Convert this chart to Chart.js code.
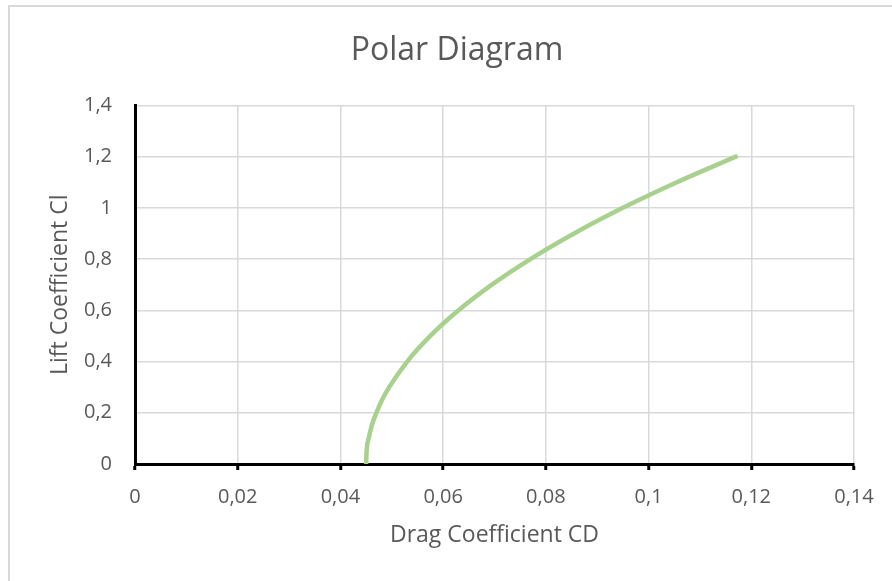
<!DOCTYPE html>
<html>
<head>
<meta charset="utf-8">
<script src="https://cdn.jsdelivr.net/npm/chart.js@4"></script>
<style>
  html, body { margin: 0; padding: 0; overflow: hidden; background: #fff; }
  #frame {
    position: absolute; left: 8px; top: 5px;
    width: 1000px; height: 1000px;
    border: 2px solid #d9d9d9;
  }
  #polar { position: absolute; left: 0; top: 0; }
</style>
</head>
<body>
<div id="frame"></div>
<canvas id="polar" width="914" height="581"></canvas>
<script>
// Polar curve: lift coefficient vs drag coefficient
const liftCoeff = [0, 0.05, 0.1, 0.15, 0.2, 0.25, 0.3, 0.4, 0.5, 0.6, 0.7, 0.8, 0.9, 1.0, 1.1, 1.2];
const dragCoeff = [0.045, 0.0451, 0.0455, 0.0461, 0.047, 0.0481, 0.0495, 0.053, 0.0575, 0.063, 0.0695, 0.077, 0.0855, 0.095, 0.1055, 0.117];

const xTickLabels = ["0", "0,02", "0,04", "0,06", "0,08", "0,1", "0,12", "0,14"];
const yTickLabels = ["0", "0,2", "0,4", "0,6", "0,8", "1", "1,2", "1,4"];

const textColor = "#595959";
const gridColor = "#d9d9d9";
const fontFamily = "'Open Sans', sans-serif";

function buildData() {
  let points = [];
  for (let i = 0; i < liftCoeff.length; i++) {
    points.push({ x: dragCoeff[i], y: liftCoeff[i] });
  }
  return {
    datasets: [
      {
        label: "Polar",
        data: points,
        showLine: true,
        borderColor: "#a9d18e",
        borderWidth: 4.5,
        pointRadius: 0,
        cubicInterpolationMode: "monotone",
        borderCapStyle: "round",
        fill: false,
      },
    ],
  };
}

function buildConfig() {
  return {
    type: "scatter",
    data: buildData(),
    options: {
      responsive: false,
      animation: false,
      // left padding shifts the title's centre to match the frame
      layout: { padding: { left: 60, right: 60, top: 0, bottom: 0 } },
      plugins: {
        legend: { display: false },
        tooltip: { enabled: false },
        title: {
          display: true,
          text: "Polar Diagram",
          color: textColor,
          font: { family: fontFamily, size: 32, weight: "normal", lineHeight: 1.2 },
          padding: { top: 32, bottom: 35 },
        },
      },
      scales: {
        x: {
          type: "linear",
          min: 0,
          max: 0.14,
          ticks: {
            stepSize: 0.02,
            color: textColor,
            padding: 15,
            maxRotation: 0,
            font: { family: fontFamily, size: 20 },
            callback: (v, i) => xTickLabels[i],
          },
          grid: {
            color: gridColor,
            lineWidth: 1.5,
            tickColor: "#000",
            tickWidth: 3,
            tickLength: 6,
          },
          border: { color: "#000", width: 3 },
          title: {
            display: true,
            text: "Drag Coefficient CD",
            color: textColor,
            font: { family: fontFamily, size: 23, lineHeight: 1.2 },
            padding: { top: 0, bottom: 32 },
          },
          afterFit: (scale) => { scale.height = 117; },
        },
        y: {
          type: "linear",
          min: 0,
          max: 1.4,
          ticks: {
            stepSize: 0.2,
            color: textColor,
            padding: 23,
            font: { family: fontFamily, size: 20 },
            callback: (v, i) => yTickLabels[i],
          },
          grid: {
            color: gridColor,
            lineWidth: 1.5,
            drawTicks: false,
          },
          border: { color: "#000", width: 3 },
          title: {
            display: true,
            text: "Lift Coefficient Cl",
            color: textColor,
            font: { family: fontFamily, size: 23, lineHeight: 1.2 },
            padding: { top: -13, bottom: 0 },
          },
          afterFit: (scale) => { scale.width = 75; },
        },
      },
    },
  };
}

const ctx = document.getElementById("polar").getContext("2d");
new Chart(ctx, buildConfig());
</script>
</body>
</html>
